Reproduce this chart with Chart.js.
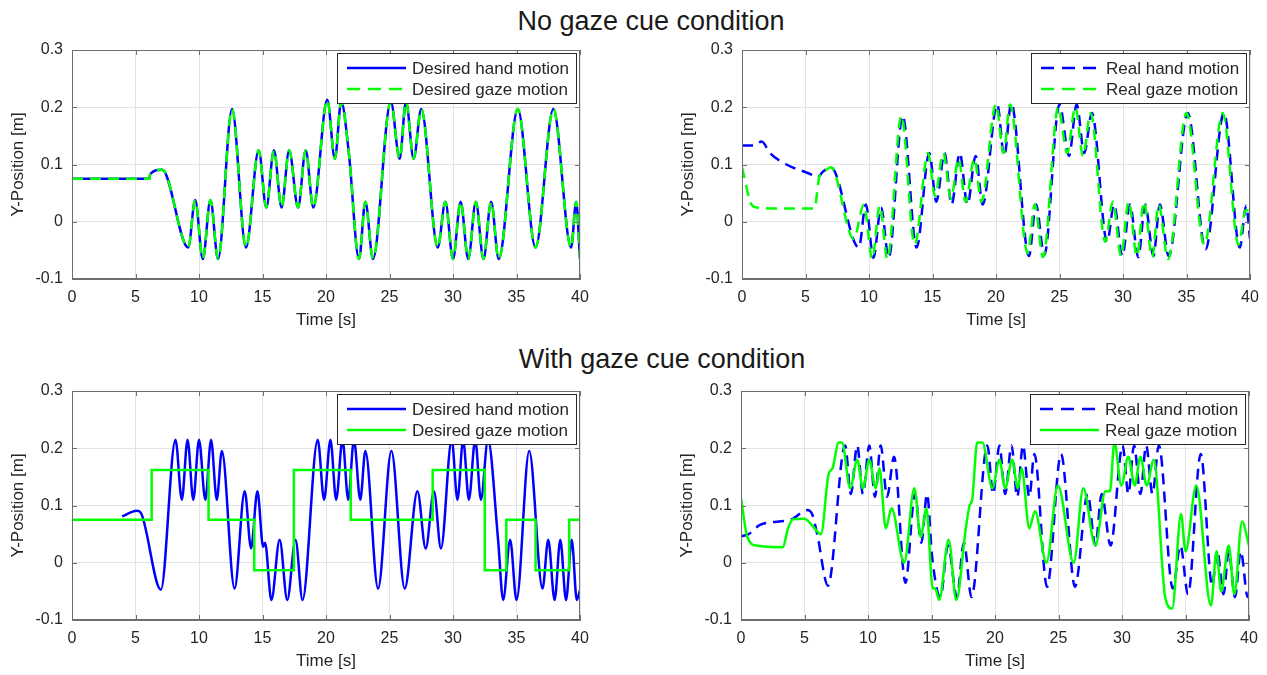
<!DOCTYPE html>
<html>
<head>
<meta charset="utf-8">
<script src="https://cdn.jsdelivr.net/npm/chart.js@4/dist/chart.umd.min.js"></script>
<style>
  body { margin: 0; background: #fff; width: 1267px; height: 675px; position: relative; overflow: hidden; font-family: "Liberation Sans", Arial, sans-serif; }
  .title { position: absolute; font-size: 27px; line-height: 30px; color: #1a1a1a; white-space: nowrap; transform: translateX(-50%); }
  .panel { position: absolute; width: 600px; height: 310px; }
</style>
</head>
<body>
<div class="title" style="left:651px; top:6px;">No gaze cue condition</div>
<div class="title" style="left:662px; top:344px;">With gaze cue condition</div>
<div class="panel" style="left:0; top:40px;"><canvas id="tl" width="600" height="310"></canvas></div>
<div class="panel" style="left:670px; top:40px;"><canvas id="tr" width="600" height="310"></canvas></div>
<div class="panel" style="left:0; top:381px;"><canvas id="bl" width="600" height="310"></canvas></div>
<div class="panel" style="left:669px; top:381px;"><canvas id="br" width="600" height="310"></canvas></div>
<script>
// axis ticks
const xTicks = [0, 5, 10, 15, 20, 25, 30, 35, 40];
const yTicks = [-0.1, 0, 0.1, 0.2, 0.3];
const yTickLabels = ['-0.1', '0', '0.1', '0.2', '0.3'];

// no gaze cue: desired motion (hand and gaze are the same trajectory)
const desiredTime1 = [0, 6.1, 6.15, 7.1, 9.15, 9.7, 10.3, 10.9, 11.5, 12.6, 13.7, 14.7, 15.3, 15.9, 16.5, 17.1, 17.8, 18.4, 19.0,
  20.1, 20.7, 21.2, 21.8, 22.6, 23.1, 23.7, 25.1, 25.8, 26.3, 26.9, 27.5, 28.8, 29.4, 30.0, 30.6, 31.2, 31.8, 32.4, 33.0, 33.6,
  35.1, 36.5, 37.9, 39.3, 39.7, 40];
const desiredPos1 = [0.075, 0.075, 0.083, 0.091, -0.045, 0.038, -0.065, 0.038, -0.065, 0.197, -0.045, 0.125, 0.025, 0.125, 0.025, 0.125, 0.025, 0.125, 0.025,
  0.213, 0.11, 0.21, 0.12, -0.065, 0.035, -0.065, 0.21, 0.11, 0.21, 0.11, 0.197, -0.045, 0.035, -0.065, 0.035, -0.065, 0.035, -0.065, 0.035, -0.065,
  0.197, -0.045, 0.197, -0.045, 0.035, -0.065];

// no gaze cue: real motion
const realHandTime1 = [0, 1.0, 1.55, 2.2, 3.5, 5.5, 5.9, 6.4, 7.0, 9.2, 9.75, 10.35, 10.95, 11.55, 12.65, 13.75, 14.75, 15.3, 15.95, 16.5, 17.15, 17.75, 18.4, 18.95,
  20.1, 20.65, 21.2, 22.6, 23.15, 23.8, 25.0, 25.75, 26.35, 26.95, 27.55, 28.75, 29.3, 29.95, 30.55, 31.2, 31.75, 32.4, 32.9, 33.6,
  35.1, 36.5, 37.95, 39.2, 39.7, 40];
const realHandPos1 = [0.133, 0.133, 0.14, 0.12, 0.1, 0.082, 0.077, 0.088, 0.095, -0.045, 0.03, -0.063, 0.025, -0.063, 0.185, -0.045, 0.12, 0.035, 0.12, 0.03, 0.12, 0.03, 0.115, 0.03,
  0.205, 0.115, 0.207, -0.06, 0.03, -0.058, 0.205, 0.115, 0.205, 0.12, 0.19, -0.035, 0.03, -0.06, 0.03, -0.062, 0.03, -0.06, 0.03, -0.06,
  0.19, -0.048, 0.19, -0.045, 0.028, -0.03];
const realGazeTime1 = [0, 0.75, 1.15, 3.0, 5.7, 6.1, 6.6, 7.0, 8.8, 9.6, 10.25, 10.85, 11.45, 12.55, 13.6, 14.65, 15.2, 15.85, 16.45, 17.05, 17.6, 18.3, 18.85,
  20.0, 20.6, 21.1, 22.5, 23.05, 23.7, 24.9, 25.6, 26.25, 26.85, 27.45, 28.6, 29.2, 29.85, 30.45, 31.1, 31.65, 32.3, 32.8, 33.55,
  35.0, 36.4, 37.85, 39.1, 39.65, 40];
const realGazePos1 = [0.095, 0.03, 0.025, 0.023, 0.023, 0.08, 0.09, 0.095, -0.03, 0.03, -0.065, 0.028, -0.065, 0.185, -0.04, 0.12, 0.045, 0.12, 0.04, 0.11, 0.035, 0.11, 0.035,
  0.205, 0.12, 0.205, -0.055, 0.03, -0.062, 0.2, 0.12, 0.2, 0.115, 0.19, -0.035, 0.035, -0.06, 0.035, -0.06, 0.035, -0.062, 0.03, -0.065,
  0.19, -0.04, 0.19, -0.04, 0.02, 0.02];

// with gaze cue: desired motion
const desiredHandTime2 = [3.95, 5.1, 5.4, 7.0, 8.15, 8.65, 9.1, 9.55, 10.0, 10.5, 10.95, 11.4, 11.8, 12.8, 13.6, 14.1, 14.6, 15.05, 15.2,
  15.7, 16.35, 16.95, 17.6, 18.15, 19.35, 19.85, 20.35, 20.8, 21.3, 21.75, 22.2, 22.7, 23.1, 24.1, 25.15, 26.2, 27.2, 27.85, 28.5, 29.05,
  29.9, 30.35, 30.8, 31.25, 31.75, 32.2, 32.75, 33.55, 33.95, 34.5, 35.0, 36.0, 37.05, 37.5, 38.0, 38.45, 38.9, 39.35, 39.75, 40];
const desiredHandPos2 = [0.081, 0.091, 0.088, -0.047, 0.215, 0.11, 0.215, 0.11, 0.215, 0.11, 0.215, 0.11, 0.195, -0.045, 0.125, 0.025, 0.125, 0.028, 0.035,
  -0.065, 0.04, -0.065, 0.04, -0.065, 0.215, 0.11, 0.215, 0.11, 0.215, 0.11, 0.215, 0.11, 0.195, -0.045, 0.195, -0.045, 0.125, 0.025, 0.125, 0.025,
  0.215, 0.11, 0.215, 0.11, 0.215, 0.11, 0.215, 0.04, -0.065, 0.04, -0.065, 0.195, -0.045, 0.04, -0.065, 0.04, -0.065, 0.04, -0.065, -0.048];
const desiredGazeTime2 = [0, 6.27, 10.75, 14.35, 17.47, 21.95, 28.4, 32.5, 34.2, 36.5, 39.15, 40];
const desiredGazePos2 = [0.075, 0.162, 0.075, -0.013, 0.162, 0.075, 0.162, -0.013, 0.075, -0.013, 0.075, 0.075];

// with gaze cue: real motion
const realHandTime2 = [0, 0.6, 1.5, 4.0, 5.2, 5.6, 6.0, 6.85, 8.2, 8.65, 9.15, 9.6, 10.1, 10.55, 11.0, 11.5, 12.05, 12.95, 13.7, 14.2, 14.65, 15.05,
  15.7, 16.3, 17.0, 17.55, 18.15, 19.4, 19.85, 20.35, 20.8, 21.3, 21.75, 22.2, 22.7, 23.1, 24.1, 25.2, 26.3, 27.3, 27.9, 28.4, 29.1,
  30.05, 30.5, 30.95, 31.45, 31.9, 32.4, 32.9, 34.0, 34.6, 35.2, 36.2, 37.1, 37.5, 38.0, 38.4, 38.9, 39.35, 39.9, 40];
const realHandPos2 = [0.046, 0.05, 0.066, 0.076, 0.092, 0.085, 0.05, -0.04, 0.205, 0.12, 0.205, 0.12, 0.205, 0.115, 0.205, 0.115, 0.185, -0.035, 0.12, 0.035, 0.12, 0.01,
  -0.06, 0.03, -0.06, 0.035, -0.06, 0.205, 0.12, 0.205, 0.12, 0.205, 0.115, 0.205, 0.115, 0.19, -0.042, 0.19, -0.042, 0.12, 0.03, 0.12, 0.03,
  0.205, 0.12, 0.205, 0.12, 0.205, 0.12, 0.205, -0.045, 0.03, -0.055, 0.19, -0.04, 0.02, -0.055, 0.02, -0.06, 0.02, -0.06, -0.058];
const realGazeTime2 = [0, 0.5, 1.2, 3.3, 3.7, 4.1, 5.0, 5.6, 6.3, 6.9, 7.2, 7.7, 7.95, 8.6, 9.15, 9.6, 10.1, 10.6, 10.9, 11.4, 11.85, 12.85, 13.65, 14.15, 14.6,
  15.1, 15.3, 15.6, 16.35, 16.95, 17.7, 18.0, 18.2, 18.6, 19.0, 19.8, 20.35, 20.8, 21.35, 21.8, 22.1, 22.7, 23.15, 24.05, 24.95, 26.2, 26.95, 27.9, 28.7, 29.05,
  29.4, 29.95, 30.5, 31.0, 31.45, 31.95, 32.5, 33.4, 33.95, 34.65, 35.0, 35.85, 37.0, 37.45, 37.8, 38.4, 38.85, 39.45, 40];
const realGazePos2 = [0.113, 0.045, 0.03, 0.027, 0.06, 0.076, 0.077, 0.065, 0.05, 0.155, 0.165, 0.21, 0.21, 0.13, 0.18, 0.13, 0.18, 0.13, 0.165, 0.06, 0.095, 0.0, 0.13, 0.045, 0.095,
  -0.045, -0.045, -0.065, 0.04, -0.065, 0.06, 0.1, 0.11, 0.21, 0.21, 0.13, 0.18, 0.13, 0.18, 0.13, 0.165, 0.06, 0.09, 0.0, 0.135, 0.0, 0.13, 0.03, 0.125, 0.125,
  0.21, 0.135, 0.185, 0.135, 0.185, 0.135, 0.18, -0.06, -0.08, 0.085, 0.02, 0.135, -0.075, 0.02, -0.05, 0.03, -0.055, 0.072, 0.03];

const BLUE = '#0000ff';
const GREEN = '#00ff00';
const textColor = '#262626';
const axisColor = '#6e6e6e';
const gridColor = '#e3e3e3';
const fontFamily = '"Liberation Sans", Arial, sans-serif';

const pts = (t, y) => t.map((v, i) => ({ x: v, y: y[i] }));

// box around the axes plus inward tick marks
const frame = {
  id: 'frame',
  afterDatasetsDraw(chart) {
    const { ctx, chartArea: a, scales } = chart;
    ctx.save();
    ctx.strokeStyle = axisColor;
    ctx.lineWidth = 1;
    ctx.strokeRect(a.left + 0.5, a.top + 0.5, a.right - a.left - 1, a.bottom - a.top - 1);
    ctx.beginPath();
    xTicks.forEach(v => {
      const px = Math.round(scales.x.getPixelForValue(v)) + 0.5;
      ctx.moveTo(px, a.bottom); ctx.lineTo(px, a.bottom - 5);
      ctx.moveTo(px, a.top); ctx.lineTo(px, a.top + 5);
    });
    yTicks.forEach(v => {
      const py = Math.round(scales.y.getPixelForValue(v)) + 0.5;
      ctx.moveTo(a.left, py); ctx.lineTo(a.left + 5, py);
      ctx.moveTo(a.right, py); ctx.lineTo(a.right - 5, py);
    });
    ctx.stroke();
    ctx.restore();
  }
};

// legend box inside the top right corner of the axes
const legendBox = {
  id: 'legendBox',
  afterDraw(chart) {
    const ctx = chart.ctx, a = chart.chartArea;
    const sets = chart.data.datasets;
    ctx.save();
    ctx.font = '17px ' + fontFamily;
    const tw = Math.max(...sets.map(d => ctx.measureText(d.label).width));
    const w = Math.round(tw + 82), h = 50;
    const x0 = Math.round(a.right - 4 - w), y0 = Math.round(a.top + 3);
    ctx.fillStyle = '#fff';
    ctx.fillRect(x0, y0, w, h);
    ctx.strokeStyle = textColor;
    ctx.lineWidth = 1;
    ctx.strokeRect(x0 + 0.5, y0 + 0.5, w, h);
    sets.forEach((d, i) => {
      const y = y0 + 15 + i * 21;
      ctx.strokeStyle = d.borderColor;
      ctx.lineWidth = d.borderWidth;
      ctx.setLineDash(d.borderDash ? [13, 8] : []);
      ctx.beginPath();
      ctx.moveTo(x0 + 10, y);
      ctx.lineTo(x0 + 69, y);
      ctx.stroke();
      ctx.setLineDash([]);
      ctx.fillStyle = textColor;
      ctx.textBaseline = 'middle';
      ctx.fillText(d.label, x0 + 75, y + 1);
    });
    ctx.restore();
  }
};

function line(label, t, y, color, dashed, order, stepped) {
  return {
    label,
    data: pts(t, y),
    borderColor: color,
    borderWidth: 2.5,
    borderDash: dashed ? [11, 7] : undefined,
    cubicInterpolationMode: stepped ? 'default' : 'monotone',
    stepped: stepped ? 'before' : false,
    order
  };
}

function makePanel(id, datasets) {
  const font = { family: fontFamily, size: 16 };
  const titleFont = { family: fontFamily, size: 17 };
  new Chart(document.getElementById(id), {
    type: 'line',
    data: { datasets },
    options: {
      responsive: false,
      animation: false,
      devicePixelRatio: 1,
      layout: { padding: { left: 0, right: 20, top: 10, bottom: 0 } },
      plugins: { legend: { display: false }, tooltip: { enabled: false } },
      elements: { point: { radius: 0 } },
      scales: {
        x: {
          type: 'linear', min: 0, max: 40,
          afterBuildTicks: s => { s.ticks = xTicks.map(v => ({ value: v })); },
          afterFit: s => { s.height = 71; },
          grid: { color: gridColor, drawTicks: false },
          border: { color: axisColor },
          ticks: { padding: 9, color: textColor, font, maxRotation: 0 },
          title: { display: true, text: 'Time [s]', color: textColor, font: titleFont, padding: { top: 0, bottom: 19 } }
        },
        y: {
          type: 'linear', min: -0.1, max: 0.3,
          afterBuildTicks: s => { s.ticks = yTicks.map(v => ({ value: v })); },
          afterFit: s => { s.width = 72; s.paddingTop = 0; s.paddingBottom = 0; },
          grid: { color: gridColor, drawTicks: false },
          border: { color: axisColor },
          ticks: { padding: 9, color: textColor, font, callback: (v, i) => yTickLabels[i] },
          title: { display: true, text: 'Y-Position [m]', color: textColor, font: titleFont, padding: { top: 8, bottom: 0 } }
        }
      }
    },
    plugins: [frame, legendBox]
  });
}

makePanel('tl', [
  line('Desired hand motion', desiredTime1, desiredPos1, BLUE, false, 1),
  line('Desired gaze motion', desiredTime1, desiredPos1, GREEN, true, 0)
]);
makePanel('tr', [
  line('Real hand motion', realHandTime1, realHandPos1, BLUE, true, 1),
  line('Real gaze motion', realGazeTime1, realGazePos1, GREEN, true, 0)
]);
makePanel('bl', [
  line('Desired hand motion', desiredHandTime2, desiredHandPos2, BLUE, false, 1),
  line('Desired gaze motion', desiredGazeTime2, desiredGazePos2, GREEN, false, 0, true)
]);
makePanel('br', [
  line('Real hand motion', realHandTime2, realHandPos2, BLUE, true, 1),
  line('Real gaze motion', realGazeTime2, realGazePos2, GREEN, false, 0)
]);
</script>
</body>
</html>
